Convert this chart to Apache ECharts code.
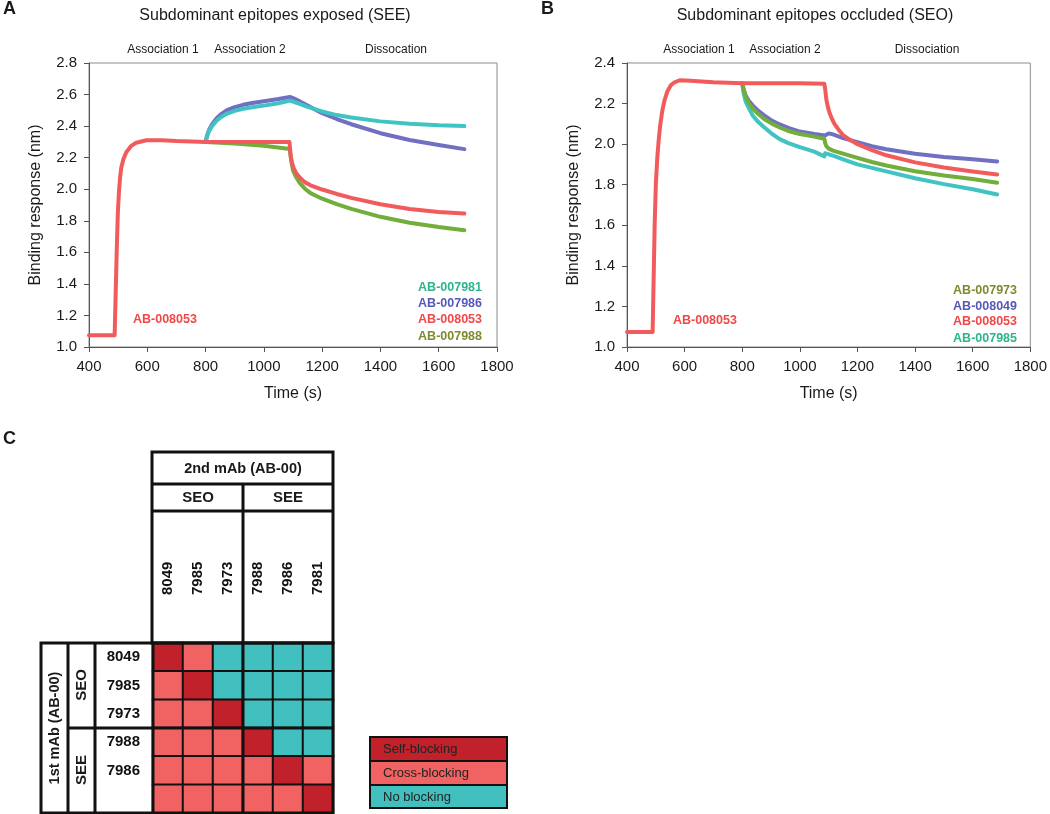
<!DOCTYPE html>
<html>
<head>
<meta charset="utf-8">
<script src="https://cdn.jsdelivr.net/npm/echarts@6/dist/echarts.min.js"></script>
<style>
html,body{margin:0;padding:0;background:#fff;}
#chart{width:1050px;height:814px;}
</style>
</head>
<body>
<div id="chart"></div>
<script>
// panel A - subdominant epitopes exposed (SEE), [time s, response nm]
var seeA8053 = [[400,1.075],[488,1.075],[491,1.3],[495,1.6],[499,1.85],[503,1.99],[507,2.08],[511,2.14],[518,2.19],[528,2.235],[545,2.275],[562,2.295],[597,2.31],[650,2.31],[700,2.305],[800,2.30],[900,2.30],[1000,2.30],[1088,2.30],
  [1090,2.25],[1093,2.20],[1097,2.165],[1102,2.135],[1110,2.105],[1123,2.075],[1140,2.045],[1160,2.025],[1200,1.998],[1250,1.97],[1300,1.945],[1400,1.905],[1500,1.875],[1600,1.856],[1688,1.846]];
var seeA7988 = [[800,2.30],[900,2.29],[1000,2.275],[1089,2.255],[1091,2.22],[1094,2.18],[1100,2.12],[1110,2.08],[1123,2.04],[1140,2.005],[1160,1.975],[1200,1.94],[1250,1.905],[1300,1.875],[1400,1.825],[1500,1.787],[1600,1.76],[1688,1.74]];
var seeA7986 = [[800,2.30],[805,2.34],[812,2.375],[822,2.41],[838,2.45],[855,2.478],[872,2.50],[900,2.52],[929,2.535],[960,2.547],[1000,2.558],[1050,2.572],[1089,2.585],[1100,2.578],[1125,2.555],[1150,2.53],[1200,2.482],[1250,2.445],[1300,2.412],[1400,2.355],[1500,2.312],[1600,2.28],[1688,2.254]];
var seeA7981 = [[800,2.30],[805,2.335],[812,2.37],[822,2.40],[838,2.435],[855,2.46],[872,2.478],[900,2.497],[929,2.51],[960,2.52],[1000,2.53],[1050,2.545],[1089,2.562],[1100,2.556],[1125,2.54],[1150,2.522],[1200,2.493],[1250,2.47],[1300,2.455],[1400,2.43],[1500,2.415],[1600,2.405],[1688,2.40]];

// panel B - subdominant epitopes occluded (SEO)
var seoB8053 = [[400,1.074],[489,1.074],[492,1.3],[496,1.6],[500,1.8],[505,1.93],[510,2.02],[515,2.09],[522,2.16],[530,2.215],[540,2.26],[552,2.29],[565,2.305],[583,2.315],[620,2.313],[700,2.305],[800,2.30],[900,2.30],[1000,2.30],[1085,2.298],
  [1088,2.27],[1092,2.22],[1097,2.185],[1103,2.155],[1110,2.13],[1120,2.10],[1135,2.07],[1150,2.045],[1175,2.02],[1200,2.00],[1250,1.97],[1300,1.945],[1400,1.91],[1500,1.885],[1600,1.865],[1685,1.85]];
var seoB8049 = [[800,2.30],[805,2.27],[812,2.24],[822,2.215],[837,2.19],[855,2.165],[875,2.143],[904,2.115],[930,2.097],[960,2.08],[1000,2.062],[1050,2.05],[1087,2.043],[1092,2.052],[1100,2.053],[1115,2.048],[1150,2.03],[1200,2.01],[1250,1.99],[1300,1.975],[1400,1.953],[1500,1.937],[1600,1.925],[1685,1.915]];
var seoB7973 = [[800,2.30],[805,2.265],[812,2.235],[822,2.205],[837,2.175],[855,2.15],[875,2.125],[904,2.10],[930,2.082],[960,2.065],[1000,2.05],[1050,2.037],[1085,2.027],[1088,2.005],[1092,1.99],[1100,1.978],[1115,1.968],[1150,1.953],[1200,1.932],[1250,1.912],[1300,1.895],[1400,1.866],[1500,1.845],[1600,1.828],[1685,1.81]];
var seoB7985 = [[800,2.30],[805,2.25],[812,2.21],[822,2.18],[837,2.14],[855,2.11],[875,2.085],[904,2.05],[930,2.025],[960,2.005],[1000,1.985],[1050,1.963],[1085,1.94],[1088,1.955],[1095,1.952],[1115,1.943],[1150,1.925],[1200,1.90],[1250,1.883],[1300,1.866],[1400,1.832],[1500,1.803],[1600,1.778],[1685,1.752]];

// panel C - competition matrix (0 none, 1 cross, 2 self)
var secondMab = ['8049','7985','7973','7988','7986','7981'];
var firstMab = ['8049','7985','7973','7988','7986',''];
var blockMatrix = [
  [2,1,0,0,0,0],
  [1,2,0,0,0,0],
  [1,1,2,0,0,0],
  [1,1,1,2,0,0],
  [1,1,1,1,2,1],
  [1,1,1,1,1,2]
];
var blockNames = ['Self-blocking','Cross-blocking','No blocking'];

var FONT = '"Liberation Sans", Arial, sans-serif';
var RED = '#f25b5b', PURPLE = '#7070c2', TEAL = '#42c3c3', GREEN = '#73ad3b';
var TXT_TEAL = '#2cb48c', TXT_PURPLE = '#5658b8', TXT_RED = '#f04848', TXT_OLIVE = '#7f8a2f';
var SELF = '#c0212b', CROSS = '#f16262', NONE = '#42c0bf';

var heatData = [];
blockMatrix.forEach(function(row, r){
  row.forEach(function(v, c){ heatData.push([c, r, v]); });
});

function valueAxes(gi, ymax){
  var lab = {fontFamily:FONT, fontSize:15, color:'#1a1a1a', margin:12};
  var line = {onZero:false, lineStyle:{color:'#555', width:1}};
  var tick = {show:true, length:5, lineStyle:{color:'#555'}};
  return {
    x:{gridIndex:gi, type:'value', min:400, max:1800, interval:200, axisLine:line, axisTick:tick,
       axisLabel:Object.assign({formatter:function(v){return String(v);}}, lab), splitLine:{show:false},
       name:'Time (s)', nameLocation:'middle', nameGap:39,
       nameTextStyle:{fontFamily:FONT, fontSize:16, color:'#1a1a1a'}},
    y:{gridIndex:gi, type:'value', min:1.0, max:ymax, interval:0.2, axisLine:line, axisTick:tick,
       axisLabel:Object.assign({formatter:function(v){return v.toFixed(1);}}, lab), splitLine:{show:false},
       name:'Binding response (nm)', nameLocation:'middle', nameGap:45,
       nameTextStyle:{fontFamily:FONT, fontSize:16, color:'#1a1a1a'}}
  };
}
var axA = valueAxes(0, 2.8), axB = valueAxes(1, 2.4);

function line(name, data, color, gi){
  return {name:name, type:'line', data:data, xAxisIndex:gi, yAxisIndex:gi, showSymbol:false,
    smooth:false, lineStyle:{color:color, width:4, join:'round', cap:'round'}, itemStyle:{color:color}, silent:true};
}

function txt(x, y, s, o){
  o = o || {};
  return {type:'text', x:x, y:y, rotation:o.rot || 0, z:100,
    style:{text:s, font:(o.bold ? 'bold ' : '') + (o.size || 12) + 'px ' + FONT, fill:o.color || '#1a1a1a',
      align:o.align || 'center', verticalAlign:'middle'}};
}
function seg(x1, y1, x2, y2, w){
  return {type:'line', z:90, shape:{x1:x1, y1:y1, x2:x2, y2:y2}, style:{stroke:'#111', lineWidth:w || 3}};
}
function box(x, y, w, h, fill, lw){
  return {type:'rect', z:fill ? 80 : 90, shape:{x:x, y:y, width:w, height:h},
    style:{fill:fill || 'none', stroke:'#111', lineWidth:lw || 3}};
}

var graphics = [
  txt(3, 9, 'A', {bold:true, size:18, align:'left'}),
  txt(541, 9, 'B', {bold:true, size:18, align:'left'}),
  txt(3, 439, 'C', {bold:true, size:18, align:'left'}),
  // phase labels
  txt(163, 50, 'Association 1'), txt(250, 50, 'Association 2'), txt(396, 50, 'Dissocation'),
  txt(699, 50, 'Association 1'), txt(785, 50, 'Association 2'), txt(927, 50, 'Dissociation'),
  // series labels A
  txt(133, 320, 'AB-008053', {bold:true, size:12.5, color:TXT_RED, align:'left'}),
  txt(482, 288, 'AB-007981', {bold:true, size:12.5, color:TXT_TEAL, align:'right'}),
  txt(482, 304, 'AB-007986', {bold:true, size:12.5, color:TXT_PURPLE, align:'right'}),
  txt(482, 320, 'AB-008053', {bold:true, size:12.5, color:TXT_RED, align:'right'}),
  txt(482, 337, 'AB-007988', {bold:true, size:12.5, color:TXT_OLIVE, align:'right'}),
  // series labels B
  txt(673, 321, 'AB-008053', {bold:true, size:12.5, color:TXT_RED, align:'left'}),
  txt(1017, 291, 'AB-007973', {bold:true, size:12.5, color:TXT_OLIVE, align:'right'}),
  txt(1017, 307, 'AB-008049', {bold:true, size:12.5, color:TXT_PURPLE, align:'right'}),
  txt(1017, 322, 'AB-008053', {bold:true, size:12.5, color:TXT_RED, align:'right'}),
  txt(1017, 339, 'AB-007985', {bold:true, size:12.5, color:TXT_TEAL, align:'right'}),
  // table frame
  box(152, 452, 181, 191), seg(152, 484, 333, 484), seg(152, 511, 333, 511), seg(243, 484, 243, 813),
  box(41, 643, 292, 170), seg(68, 643, 68, 813), seg(95, 643, 95, 813), seg(153, 643, 153, 813), seg(68, 728, 333, 728),
  txt(243, 469, '2nd mAb (AB-00)', {bold:true, size:14.5}),
  txt(198, 498, 'SEO', {bold:true, size:15}), txt(288, 498, 'SEE', {bold:true, size:15}),
  txt(55, 728, '1st mAb (AB-00)', {bold:true, size:14.5, rot:Math.PI / 2}),
  txt(82, 685, 'SEO', {bold:true, size:15, rot:Math.PI / 2}),
  txt(82, 770, 'SEE', {bold:true, size:15, rot:Math.PI / 2})
];
// legend for panel C
var legFill = [SELF, CROSS, NONE], legY = [737, 761, 785];
blockNames.forEach(function(n, i){
  graphics.push(box(370, legY[i], 137, i === 2 ? 23 : 24, legFill[i], 2));
  graphics.push(txt(383, legY[i] + 12, n, {size:13, align:'left', color:'#222'}));
});

var chart = echarts.init(document.getElementById('chart'), null, {renderer:'canvas'});
chart.setOption({
  animation:false,
  backgroundColor:'#fff',
  title:[
    {text:'Subdominant epitopes exposed (SEE)', left:275, top:8, textAlign:'center', padding:0,
      textStyle:{fontFamily:FONT, fontSize:16, fontWeight:'normal', color:'#1a1a1a'}},
    {text:'Subdominant epitopes occluded (SEO)', left:815, top:8, textAlign:'center', padding:0,
      textStyle:{fontFamily:FONT, fontSize:16, fontWeight:'normal', color:'#1a1a1a'}}
  ],
  grid:[
    {left:89, top:63, width:408, height:284, show:true, borderColor:'#8c8c8c', borderWidth:1, backgroundColor:'transparent'},
    {left:627, top:63, width:406, height:284, show:true, borderColor:'#8c8c8c', borderWidth:1, backgroundColor:'transparent'},
    {left:153, top:643, width:180, height:170}
  ],
  xAxis:[axA.x, axB.x,
    {gridIndex:2, type:'category', position:'top', data:secondMab, axisLine:{show:false}, axisTick:{show:false},
     splitLine:{show:false}, axisLabel:{rotate:-90, margin:48, fontFamily:FONT, fontSize:15, fontWeight:'bold', color:'#111'}}],
  yAxis:[axA.y, axB.y,
    {gridIndex:2, type:'category', inverse:true, data:firstMab, axisLine:{show:false}, axisTick:{show:false},
     splitLine:{show:false}, axisLabel:{margin:13, fontFamily:FONT, fontSize:15, fontWeight:'bold', color:'#111'}}],
  visualMap:{type:'piecewise', show:false, seriesIndex:8, dimension:2,
    pieces:[{value:0, color:NONE}, {value:1, color:CROSS}, {value:2, color:SELF}]},
  series:[
    line('AB-007986', seeA7986, PURPLE, 0),
    line('AB-007981', seeA7981, TEAL, 0),
    line('AB-007988', seeA7988, GREEN, 0),
    line('AB-008053', seeA8053, RED, 0),
    line('AB-008049', seoB8049, PURPLE, 1),
    line('AB-007985', seoB7985, TEAL, 1),
    line('AB-007973', seoB7973, GREEN, 1),
    line('AB-008053 ', seoB8053, RED, 1),
    {type:'heatmap', xAxisIndex:2, yAxisIndex:2, data:heatData, silent:true,
     itemStyle:{borderColor:'#111', borderWidth:2}}
  ],
  graphic:graphics
});
</script>
</body>
</html>
